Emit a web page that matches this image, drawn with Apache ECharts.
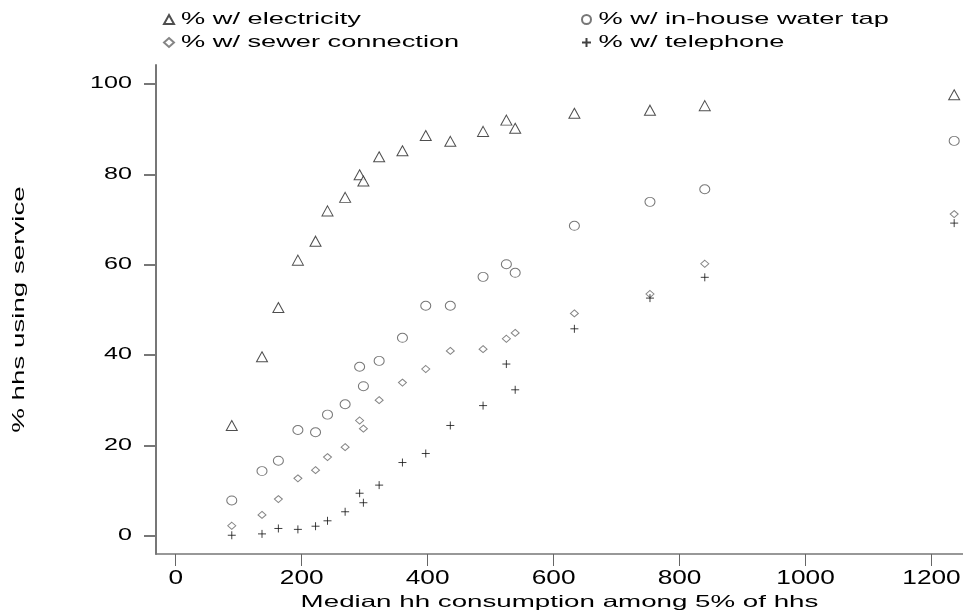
<!DOCTYPE html>
<html>
<head>
<meta charset="utf-8">
<script src="https://cdn.jsdelivr.net/npm/echarts@6/dist/echarts.min.js"></script>
<style>
html,body{margin:0;padding:0;background:#fff;}
#chart{width:963px;height:614px;}
</style>
</head>
<body>
<div id="chart"></div>
<script>
// ---- data ----
var consumption = [89, 137, 163, 194, 222, 241, 269, 292, 298, 323, 360, 397, 436, 488, 525, 539, 633, 753, 840, 1236];
var electricity = [24.4, 39.6, 50.5, 61.0, 65.2, 71.9, 74.9, 79.9, 78.5, 83.9, 85.2, 88.6, 87.3, 89.5, 92.0, 90.2, 93.5, 94.2, 95.2, 97.6];
var waterTap    = [7.8, 14.3, 16.6, 23.4, 22.9, 26.8, 29.1, 37.4, 33.1, 38.7, 43.8, 50.9, 50.9, 57.3, 60.1, 58.2, 68.6, 73.9, 76.7, 87.4];
var sewer       = [2.2, 4.6, 8.1, 12.7, 14.5, 17.4, 19.6, 25.5, 23.7, 30.0, 33.9, 36.9, 40.9, 41.3, 43.6, 44.9, 49.2, 53.5, 60.2, 71.2];
var telephone   = [0.1, 0.4, 1.6, 1.4, 2.1, 3.3, 5.3, 9.4, 7.3, 11.2, 16.2, 18.2, 24.4, 28.8, 38.0, 32.3, 45.8, 52.6, 57.2, 69.2];
var xTicks = [0, 200, 400, 600, 800, 1000, 1200];
var yTicks = [0, 20, 40, 60, 80, 100];
var seriesNames = ['% w/ electricity', '% w/ in-house water tap', '% w/ sewer connection', '% w/ telephone'];
var xTitle = 'Median hh consumption among 5% of hhs';
var yTitle = '% hhs using service';

// ---- wide glyph rendering (text is drawn horizontally stretched like the original) ----
var STRETCH = { 16: 1.57, 16.5: 1.68, 20.5: 1.28, 17: 1.6 };
(function () {
  var P = CanvasRenderingContext2D.prototype;
  var origFill = P.fillText, origStroke = P.strokeText;
  function factor(ctx) {
    var m = /([\d.]+)px/.exec(ctx.font);
    var s = m ? parseFloat(m[1]) : 0;
    return STRETCH[s] || 1;
  }
  function wrap(orig) {
    return function (t, x, y, mw) {
      var f = factor(this);
      if (f === 1) { return mw === undefined ? orig.call(this, t, x, y) : orig.call(this, t, x, y, mw); }
      this.save();
      this.translate(x, y);
      this.scale(f, 1);
      orig.call(this, t, 0, 0);
      this.restore();
    };
  }
  P.fillText = wrap(origFill);
  P.strokeText = wrap(origStroke);
})();

var FONT = 'Liberation Sans';
var plusPath = 'path://M0,5L10,5M5,0L5,10';

function pairs(ys) { return consumption.map(function (x, i) { return [x, ys[i]]; }); }
function plain(v) { return String(v); }

var legendText = { fontFamily: FONT, fontSize: 17, color: '#000', padding: [0, 0, 0, 2] };

var chart = echarts.init(document.getElementById('chart'), null, { renderer: 'canvas' });
chart.setOption({
  animation: false,
  backgroundColor: '#fff',
  textStyle: { fontFamily: FONT },
  grid: { left: 156, right: 0, top: 65, bottom: 60, outerBoundsMode: 'none' },
  legend: [
    {
      data: [seriesNames[0], seriesNames[2]], orient: 'vertical', left: 158, top: 6, itemGap: 6,
      itemWidth: 10, itemHeight: 9, textStyle: legendText
    },
    {
      data: [seriesNames[1], seriesNames[3]], orient: 'vertical', left: 576, top: 6, itemGap: 6,
      itemWidth: 10, itemHeight: 9, textStyle: legendText
    }
  ],
  xAxis: {
    type: 'value', min: -31.3, max: 1250,
    name: xTitle, nameLocation: 'middle', nameGap: 39,
    nameTextStyle: { fontFamily: FONT, fontSize: 16.5, color: '#000' },
    axisLine: { show: true, onZero: false, lineStyle: { color: '#777', width: 1.5 } },
    axisTick: { show: true, customValues: xTicks, length: 12, lineStyle: { color: '#666', width: 1 } },
    axisLabel: { customValues: xTicks, formatter: plain, fontSize: 20.5, color: '#000', margin: 14, fontFamily: FONT },
    splitLine: { show: false }
  },
  yAxis: {
    type: 'value', min: -4.05, max: 104.2,
    name: yTitle, nameLocation: 'middle', nameGap: 128, nameRotate: 90,
    nameTextStyle: { fontFamily: FONT, fontSize: 16.5, color: '#000' },
    axisLine: { show: true, onZero: false, lineStyle: { color: '#777', width: 2 } },
    axisTick: { show: true, customValues: yTicks, length: 12, lineStyle: { color: '#777', width: 2 } },
    axisLabel: { customValues: yTicks, formatter: plain, fontSize: 16, color: '#000', margin: 24, fontFamily: FONT },
    splitLine: { show: false }
  },
  series: [
    {
      name: seriesNames[0], type: 'scatter', data: pairs(electricity),
      symbol: 'triangle', symbolSize: [11, 10],
      itemStyle: { color: '#fff', borderColor: '#222', borderWidth: 1 }
    },
    {
      name: seriesNames[1], type: 'scatter', data: pairs(waterTap),
      symbol: 'circle', symbolSize: [10, 9],
      itemStyle: { color: '#fff', borderColor: '#555', borderWidth: 1 }
    },
    {
      name: seriesNames[2], type: 'scatter', data: pairs(sewer),
      symbol: 'diamond', symbolSize: [8, 7],
      itemStyle: { color: '#fff', borderColor: '#666', borderWidth: 1 }
    },
    {
      name: seriesNames[3], type: 'scatter', data: pairs(telephone),
      symbol: plusPath, symbolSize: [8, 8],
      itemStyle: { color: 'transparent', borderColor: '#111', borderWidth: 1 }
    }
  ]
});
</script>
</body>
</html>
